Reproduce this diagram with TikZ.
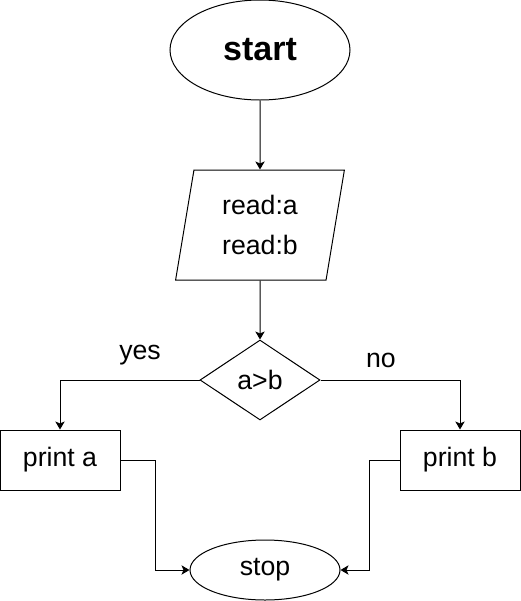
\documentclass[tikz,border=0pt]{standalone}
\usepackage{fontspec}
\setmainfont{Liberation Sans}
\usetikzlibrary{shapes.geometric,arrows.meta}

\begin{document}
\begin{tikzpicture}[x=0.75pt, y=-0.75pt, line width=0.75pt, font=\fontsize{20}{30}\selectfont,
        term/.style = {draw, ellipse, inner sep=0pt},
        io/.style = {draw, trapezium, trapezium left angle=80, trapezium right angle=100, trapezium stretches=true, minimum width=127.5pt, minimum height=82.5pt, inner sep=0pt, align=center},
        cond/.style = {draw, diamond, minimum width=90pt, minimum height=60pt, inner sep=0pt},
        box/.style = {draw, rectangle, minimum width=90pt, minimum height=45pt, inner sep=0pt},
        flow/.style = {-{Stealth[length=6pt, width=7pt, inset=1.5pt]}}]
        \useasboundingbox (0,0) rectangle (521,601);

        \node[term, minimum width=135pt, minimum height=75pt, font=\fontsize{25.5}{30}\bfseries] (start) at (260,50) {start};
        \node[io] (read) at (260,225) {read:a\\read:b};
        \node[cond] (cmp) at (260,380) {a>b};
        \node[box] (pa) at (60,460) {print a};
        \node[box] (pb) at (460,460) {print b};
        \node[term, minimum width=112.5pt, minimum height=45pt] (stop) at (265,570) {stop};

        % branch labels
        \node (yes) at (140,355) {yes};
        \node (no) at (381,360) {no};

        % main flow
        \draw[flow] (start) -- (read);
        \draw[flow] (read) -- (cmp);

        % branches
        \draw[flow] (cmp.west) -| (pa.north);
        \draw[flow] (cmp.east) -| (pb.north);

        % join
        \draw[flow] (pa.east) -- ++(35,0) |- (stop.west);
        \draw[flow] (pb.west) -- ++(-30,0) |- (stop.east);
    \end{tikzpicture}
\end{document}
